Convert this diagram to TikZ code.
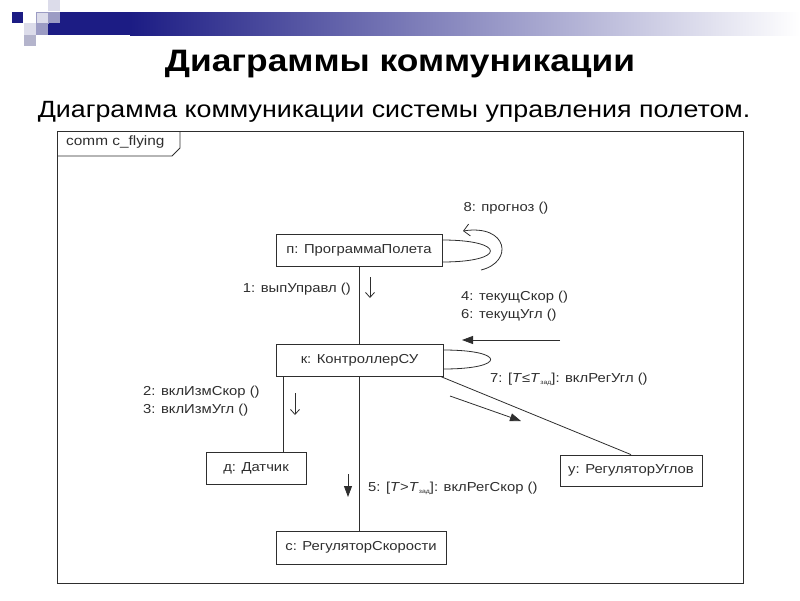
\documentclass[tikz,border=0pt]{standalone}
\usepackage{fontspec}
\setmainfont{Liberation Sans}[FakeStretch=1.14]
\usetikzlibrary{arrows.meta,positioning,calc}
\definecolor{slideNavy}{HTML}{1C1C84}
\definecolor{slideLight}{HTML}{DCDCEA}
\definecolor{slideMid}{HTML}{9C9CC4}
\definecolor{slideGray}{HTML}{B4B4CC}
\definecolor{inkGray}{HTML}{2E2E2E}
\newcommand{\Tzad}{\textit{T}\kern0.3pt\raisebox{-2pt}{\fontsize{6}{6}\selectfont зад}}

\begin{document}
\begin{tikzpicture}[
  x=1pt, y=-1pt, >=Latex,
  obj/.style={draw=inkGray, line width=0.8pt, minimum height=32pt, inner sep=0pt, text=inkGray, font=\fontsize{13}{15}\selectfont},
  link/.style={draw=inkGray, line width=0.8pt},
  msg/.style={draw=inkGray, line width=0.8pt, -{Triangle[length=11pt,width=8pt]}},
  msgopen/.style={draw=inkGray, line width=0.8pt, -{Straight Barb[length=5pt,width=9pt]}},
  lab/.style={font=\fontsize{13}{18}\selectfont, text=inkGray, inner sep=0pt, align=left}
]
\useasboundingbox (0,0) rectangle (800,600);

% slide decoration
\fill[slideNavy] (12,12) rectangle (23,23);
\fill[slideLight] (48,0) rectangle (60,11);
\shade[left color=slideNavy, right color=white] (130,12) rectangle (800,35);
\fill[slideNavy] (60,12) rectangle (131,35);
\fill[slideNavy] (48,23) rectangle (60,35);
\filldraw[fill=slideLight, draw=slideMid, line width=0.6pt] (36,12) rectangle (48,23);
\fill[slideMid] (48,12) rectangle (60,23);
\fill[slideLight] (24,23) rectangle (36,35);
\fill[slideMid] (36,23) rectangle (48,35);
\fill[slideGray] (24,35) rectangle (36,46);

% titles
\node[font=\bfseries\fontsize{31}{34}\selectfont] (title) at (400,64) {Диаграммы коммуникации};
\node[font=\fontsize{23.5}{26}\selectfont] (subtitle) at (394,112) {Диаграмма коммуникации системы управления полетом.};

% frame
\draw[link] (57,131) rectangle (743,583);
\draw[link] (57,156) -- (172,156) -- (180,148) -- (180,131);
\node[lab, anchor=west, font=\fontsize{13.5}{15}\selectfont] (frameName) at (66,142) {comm c\_flying};

% objects
\node[obj, minimum width=166pt] (prog) at (359,250) {п: ПрограммаПолета};
\node[obj, minimum width=167pt] (ctrl) at (359.5,360) {к: КонтроллерСУ};
\node[obj, minimum width=100pt] (sens) at (256,468) {д: Датчик};
\node[obj, minimum width=142pt, minimum height=31pt] (angle) at (631,470.5) {у: РегуляторУглов};
\node[obj, minimum width=170pt, minimum height=33pt] (speed) at (361,547.5) {с: РегуляторСкорости};

% links
\draw[link] (prog.south) -- (prog.south |- ctrl.north);
\coordinate (sensTop) at ([xshift=27pt]sens.north);
\draw[link] (sensTop |- ctrl.south) -- (sensTop);
\draw[link] (ctrl.south) -- (ctrl.south |- speed.north);
\draw[link] ([xshift=-3pt]ctrl.south east) -- (angle.north);
\draw[link] ([yshift=10pt]prog.east) .. controls +(64,0) and +(64,0) .. ([yshift=-12pt]prog.east);
\draw[link] ([yshift=10pt]ctrl.east) .. controls +(63,0) and +(63,0) .. ([yshift=-9pt]ctrl.east);

% messages
\draw[msgopen, -{Straight Barb[length=6pt,width=12pt]}] (481,270) .. controls (514,262) and (508,224) .. (463,231);
\node[lab] (m8) at (506,208) {8: прогноз ()};
\draw[msgopen] (370,277) -- (370,298);
\node[lab, anchor=east] (m1) at (351,289) {1: выпУправл ()};
\draw[msg] (560,340) -- (462,340);
\node[lab, anchor=west] (m46) at (461,306) {4: текущСкор ()\\6: текущУгл ()};
\node[lab, anchor=west] (m7) at (490,379) {7: [\textit{T}≤\Tzad]: вклРегУгл ()};
\draw[msg] (450,396) -- (521,421);
\draw[msgopen] (295,393) -- (295,415);
\node[lab, anchor=west] (m23) at (143,401) {2: вклИзмСкор ()\\3: вклИзмУгл ()};
\draw[msg] (348,474) -- (348,497);
\node[lab, anchor=west] (m5) at (368,488) {5: [\textit{T}>\Tzad]: вклРегСкор ()};
\end{tikzpicture}
\end{document}
